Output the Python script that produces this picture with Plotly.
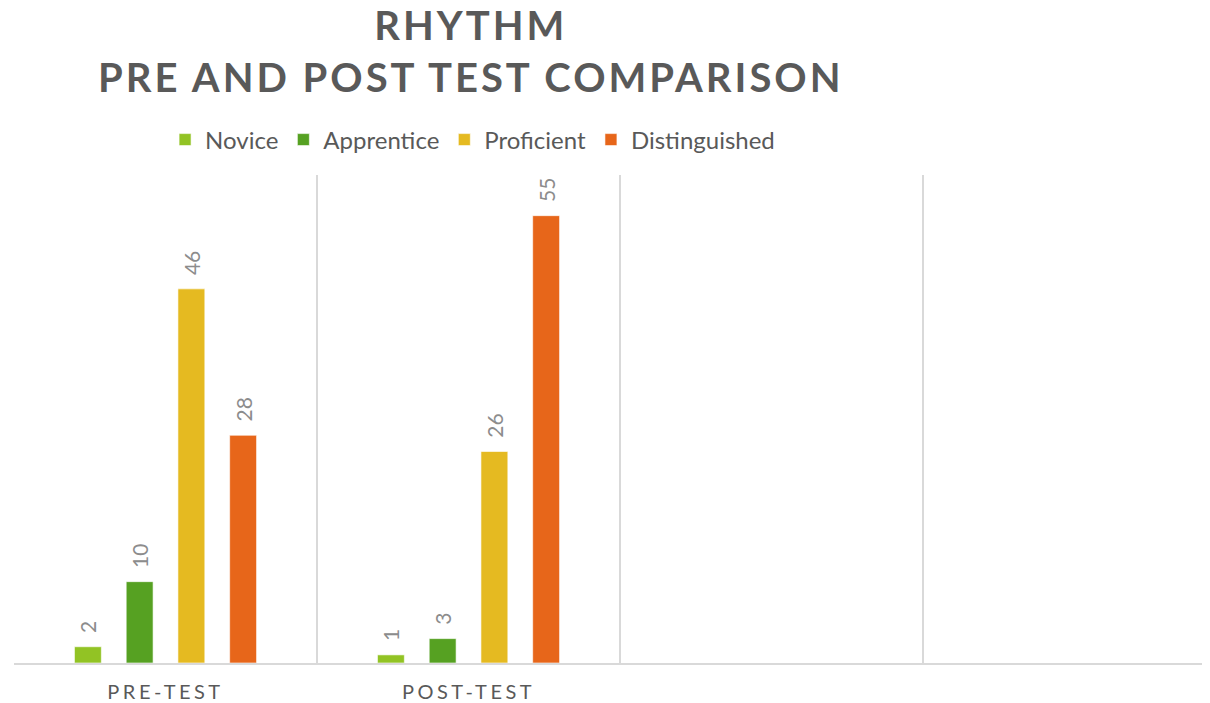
import plotly.graph_objects as go

categories = ["PRE-TEST", "POST-TEST", " ", "  "]
series_names = ["Novice", "Apprentice", "Proficient", "Distinguished"]
novice = [2, 1, None, None]
apprentice = [10, 3, None, None]
proficient = [46, 26, None, None]
distinguished = [28, 55, None, None]
colors = ["#92C324", "#56A122", "#E5BA21", "#E7661A"]

values = [novice, apprentice, proficient, distinguished]

fig = go.Figure()
for name, vals, col in zip(series_names, values, colors):
    fig.add_trace(go.Bar(
        x=categories, y=vals, name=name,
        marker=dict(color=col, line=dict(color="rgba(255,255,255,0.6)", width=1)),
        text=[("\u00a0\u00a0" + str(v)) if v is not None else "" for v in vals],
        textposition="outside", textangle=-90, cliponaxis=False,
        constraintext="none",
        textfont=dict(family="Lato", size=21, color="#8C8C8C"),
    ))

ticktext = ["<span style='letter-spacing:3.5px'>%s</span>" % c for c in categories]

fig.add_annotation(
    text="<span style='letter-spacing:3px'>RHYTHM<br>PRE AND POST TEST COMPARISON</span>",
    font=dict(family="Lato", size=40, color="#595959", weight="bold"),
    xref="paper", yref="paper", x=0.382, y=1.3616,
    xanchor="center", yanchor="top", showarrow=False, align="center",
)

fig.update_layout(
    width=1202, height=695,
    margin=dict(l=6, r=0, t=167, b=40),
    paper_bgcolor="white", plot_bgcolor="white",
    barmode="group", bargap=0.317, bargroupgap=0.48,
    legend=dict(
        orientation="h", x=0.3865, xanchor="center", xref="container",
        y=1 - 132 / 695, yanchor="middle", yref="container",
        font=dict(family="Lato", size=24, color="#595959"),
        itemwidth=30, traceorder="normal",
    ),
    xaxis=dict(
        type="category", categoryorder="array", categoryarray=categories,
        tickvals=categories, ticktext=ticktext,
        range=[-0.5, 3.447], tickson="boundaries",
        showgrid=True, gridcolor="#D9D9D9", gridwidth=1.5,
        showline=True, linecolor="#D9D9D9", linewidth=2,
        ticks="", ticklabelstandoff=10,
        tickfont=dict(family="Lato", size=20, color="#595959"),
        fixedrange=True,
    ),
    yaxis=dict(
        range=[0, 60], showgrid=False, showticklabels=False, zeroline=False,
        showline=False, ticks="",
    ),
)

fig.write_html("out.html")
